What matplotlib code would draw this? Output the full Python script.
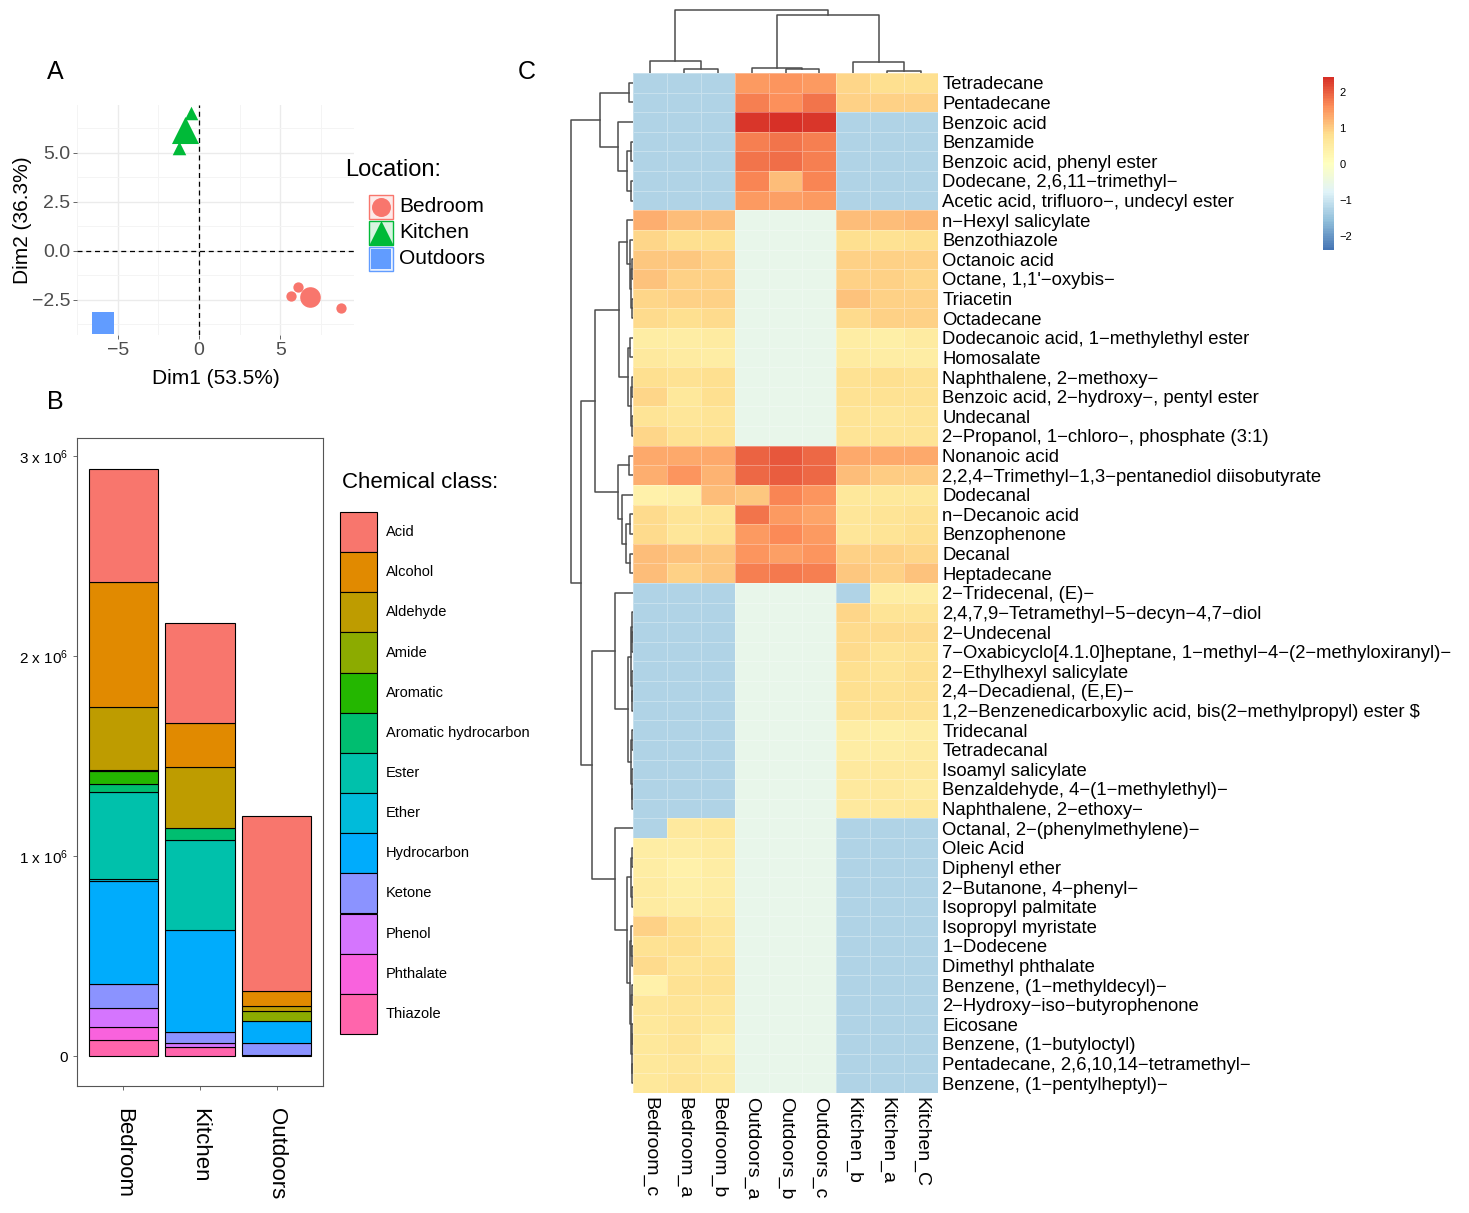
import numpy as np
import matplotlib
matplotlib.use('Agg')
import matplotlib.pyplot as plt
from matplotlib.colors import LinearSegmentedColormap
from matplotlib.patches import Rectangle

plt.rcParams['font.family'] = ['Liberation Sans', 'DejaVu Sans']
plt.rcParams['mathtext.default'] = 'regular'

# ---------------- data ----------------
# A: PCA scores
locations = ['Bedroom', 'Kitchen', 'Outdoors']
loc_colors = ['#F8766D', '#00BA38', '#619CFF']
loc_markers = ['o', '^', 's']
bedroom_dim1 = [6.06, 5.67, 8.73]
bedroom_dim2 = [-1.84, -2.29, -2.93]
kitchen_dim1 = [-0.47, -1.24, -0.93]
kitchen_dim2 = [7.04, 5.26, 6.21]
outdoors_dim1 = [-5.9, -5.9, -5.9]
outdoors_dim2 = [-3.67, -3.67, -3.67]

# B: stacked peak area per chemical class
classes = ['Acid', 'Alcohol', 'Aldehyde', 'Amide', 'Aromatic', 'Aromatic hydrocarbon',
           'Ester', 'Ether', 'Hydrocarbon', 'Ketone', 'Phenol', 'Phthalate', 'Thiazole']
class_colors = ['#F8766D', '#E18A00', '#BE9C00', '#8CAB00', '#24B700', '#00BE70',
                '#00C1AB', '#00BBDA', '#00ACFC', '#8B93FF', '#D575FE', '#F962DD', '#FF65AC']
bedroom_area = [563e3, 627e3, 316e3, 5e3, 65e3, 39e3, 433e3, 13e3, 515e3, 119e3, 97e3, 65e3, 78e3]
kitchen_area = [498e3, 221e3, 307e3, 0, 0, 61e3, 450e3, 0, 509e3, 54e3, 22e3, 0, 43e3]
outdoors_area = [876e3, 74e3, 26e3, 48e3, 0, 0, 0, 0, 112e3, 61e3, 0, 0, 4e3]

# C: heatmap
compounds = [
    'Tetradecane', 'Pentadecane', 'Benzoic acid', 'Benzamide', 'Benzoic acid, phenyl ester',
    'Dodecane, 2,6,11\u2212trimethyl\u2212', 'Acetic acid, trifluoro\u2212, undecyl ester',
    'n\u2212Hexyl salicylate', 'Benzothiazole', 'Octanoic acid', "Octane, 1,1'\u2212oxybis\u2212",
    'Triacetin', 'Octadecane', 'Dodecanoic acid, 1\u2212methylethyl ester', 'Homosalate',
    'Naphthalene, 2\u2212methoxy\u2212', 'Benzoic acid, 2\u2212hydroxy\u2212, pentyl ester', 'Undecanal',
    '2\u2212Propanol, 1\u2212chloro\u2212, phosphate (3:1)', 'Nonanoic acid',
    '2,2,4\u2212Trimethyl\u22121,3\u2212pentanediol diisobutyrate', 'Dodecanal', 'n\u2212Decanoic acid',
    'Benzophenone', 'Decanal', 'Heptadecane', '2\u2212Tridecenal, (E)\u2212',
    '2,4,7,9\u2212Tetramethyl\u22125\u2212decyn\u22124,7\u2212diol', '2\u2212Undecenal',
    '7\u2212Oxabicyclo[4.1.0]heptane, 1\u2212methyl\u22124\u2212(2\u2212methyloxiranyl)\u2212',
    '2\u2212Ethylhexyl salicylate', '2,4\u2212Decadienal, (E,E)\u2212',
    '1,2\u2212Benzenedicarboxylic acid, bis(2\u2212methylpropyl) ester $', 'Tridecanal',
    'Tetradecanal', 'Isoamyl salicylate', 'Benzaldehyde, 4\u2212(1\u2212methylethyl)\u2212',
    'Naphthalene, 2\u2212ethoxy\u2212', 'Octanal, 2\u2212(phenylmethylene)\u2212', 'Oleic Acid',
    'Diphenyl ether', '2\u2212Butanone, 4\u2212phenyl\u2212', 'Isopropyl palmitate',
    'Isopropyl myristate', '1\u2212Dodecene', 'Dimethyl phthalate',
    'Benzene, (1\u2212methyldecyl)\u2212', '2\u2212Hydroxy\u2212iso\u2212butyrophenone', 'Eicosane',
    'Benzene, (1\u2212butyloctyl)', 'Pentadecane, 2,6,10,14\u2212tetramethyl\u2212',
    'Benzene, (1\u2212pentylheptyl)\u2212']
samples = ['Bedroom_c', 'Bedroom_a', 'Bedroom_b', 'Outdoors_a', 'Outdoors_b', 'Outdoors_c',
           'Kitchen_b', 'Kitchen_a', 'Kitchen_C']
b, p = -1.27, -0.6
bedroom_c = [b] * 7 + [1.3, 0.88, 1.05, 1.1, 0.9, 0.85, 0.45, 0.55, 0.8, 0.9, 0.7, 0.9,
                       1.35, 1.3, 0.35, 0.85, 0.85, 1.15, 1.15] + [b] * 12 + \
            [b, 0.45, 0.45, 0.5, 0.5, 0.95, 0.75, 0.85, 0.35, 0.65, 0.6, 0.6, 0.6, 0.6]
bedroom_a = [b] * 7 + [1.12, 0.8, 1.05, 0.95, 0.95, 0.8, 0.45, 0.5, 0.75, 0.6, 0.65, 0.75,
                       1.35, 1.52, 0.4, 0.7, 0.65, 1.1, 0.95] + [b] * 12 + \
            [0.55, 0.45, 0.35, 0.4, 0.45, 0.8, 0.8, 0.7, 0.75, 0.7, 0.7, 0.7, 0.65, 0.7]
bedroom_b = [b] * 7 + [1.12, 0.8, 0.95, 0.95, 0.95, 0.85, 0.5, 0.45, 0.8, 0.8, 0.7, 0.75,
                       1.35, 1.25, 1.15, 0.7, 0.75, 1.05, 1.05] + [b] * 12 + \
            [0.6, 0.5, 0.45, 0.45, 0.5, 0.65, 0.65, 0.75, 0.75, 0.65, 0.6, 0.45, 0.6, 0.6]
outdoors_a = [1.5, 1.7, 2.33, 1.72, 1.82, 1.65, 1.5] + [p] * 12 + \
             [1.95, 1.9, 1.05, 1.82, 1.48, 1.52, 1.72] + [p] * 26
outdoors_b = [1.55, 1.6, 2.42, 1.82, 1.88, 1.12, 1.42] + [p] * 12 + \
             [2.05, 2.0, 1.65, 1.5, 1.62, 1.42, 1.75] + [p] * 26
outdoors_c = [1.5, 1.8, 2.33, 1.72, 1.72, 1.65, 1.5] + [p] * 12 + \
             [1.9, 1.9, 1.55, 1.38, 1.48, 1.52, 1.72] + [p] * 26
kitchen_b = [0.9, 0.95] + [b] * 5 + [1.12, 0.8, 0.95, 0.95, 1.1, 0.85, 0.45, 0.5, 0.75, 0.75, 0.7, 0.7,
                                     1.35, 1.15, 0.6, 0.65, 0.65, 0.95, 1.05] + \
            [b, 0.9, 0.85, 0.85, 0.8, 0.8, 0.75, 0.45, 0.45, 0.55, 0.55, 0.55] + [b] * 14
kitchen_a = [0.8, 0.95] + [b] * 5 + [1.12, 0.75, 0.95, 0.95, 0.95, 0.95, 0.4, 0.45, 0.8, 0.75, 0.65, 0.7,
                                     1.35, 1.0, 0.6, 0.7, 0.7, 0.95, 0.95] + \
            [0.45, 0.7, 0.85, 0.7, 0.7, 0.75, 0.75, 0.4, 0.45, 0.55, 0.55, 0.55] + [b] * 14
kitchen_C = [0.8, 0.97] + [b] * 5 + [1.2, 0.8, 0.95, 0.9, 0.95, 0.95, 0.5, 0.45, 0.75, 0.75, 0.7, 0.7,
                                     1.35, 1.0, 0.6, 0.75, 0.8, 0.9, 1.1] + \
            [0.45, 0.7, 0.85, 0.75, 0.8, 0.8, 0.75, 0.45, 0.5, 0.55, 0.5, 0.6] + [b] * 14

# dendrogram merges (left, right, height), leaves = row / column index
col_tree = ((0, (1, 2, 4), 12), ((3, (4, 5, 4), 5), (6, (7, 8, 2), 11), 58), 63)
t1_7 = ((0, 1, 4), (2, ((3, 4, 2), (5, 6, 2), 6), 15), 33)
t8_13 = (7, (8, ((9, 10, 1), (11, 12, 1.5), 2.5), 3.5), 6)
t14_19 = ((13, 14, 3), ((15, 16, 1), (17, 18, 1.5), 2.5), 5)
t20_26 = ((19, 20, 4.5), (21, ((22, 23, 3), (24, 25, 3), 7), 11), 15)
t28_33 = ((27, (28, 29, 0.8), 1.5), (30, (31, 32, 0.8), 1.2), 2)
t34_38 = ((33, 34, 0.8), (35, (36, 37, 0.6), 1), 2)
t40_43 = ((39, 40, 1), (41, 42, 1.2), 2)
t44_52 = ((43, (44, 45, 1), 2), ((46, 47, 1.2), ((48, 49, 0.8), (50, 51, 0.6), 1.2), 1.8), 3.5)
row_tree = (t1_7, (((t8_13, t14_19, 14), t20_26, 38),
                   ((26, (t28_33, t34_38, 5), 18), (38, (t40_43, t44_52, 6), 18), 41), 52), 62)

# ---------------- figure ----------------
W, H = 1469, 1213
fig = plt.figure(figsize=(W / 100, H / 100), dpi=100)


def px_axes(x0, y0, x1, y1):
    return fig.add_axes([x0 / W, 1 - y1 / H, (x1 - x0) / W, (y1 - y0) / H])


# ---- A ----
axA = px_axes(77, 105, 354, 335)
dims = [(bedroom_dim1, bedroom_dim2), (kitchen_dim1, kitchen_dim2), (outdoors_dim1, outdoors_dim2)]
small_s = {'o': 55, '^': 95, 's': 70}
big_s = {'o': 220, '^': 380, 's': 230}
for (d1, d2), col, mk in zip(dims, loc_colors, loc_markers):
    axA.scatter(d1, d2, s=small_s[mk], marker=mk, color=col, linewidths=0, zorder=3)
    axA.scatter([np.mean(d1)], [np.mean(d2)], s=big_s[mk], marker=mk, color=col,
                linewidths=0, zorder=3)
axA.axhline(0, color='black', lw=0.9, ls=(0, (4, 3)), zorder=2)
axA.axvline(0, color='black', lw=0.9, ls=(0, (4, 3)), zorder=2)
axA.set_xlim(-6.86, 9.53)
axA.set_ylim(-4.3, 7.45)
axA.set_xticks([-5, 0, 5])
axA.set_xticks([-7.5, -2.5, 2.5, 7.5], minor=True)
axA.set_yticks([-2.5, 0, 2.5, 5.0])
axA.set_yticks([-3.75, -1.25, 1.25, 3.75, 6.25], minor=True)
axA.set_yticklabels(['\u22122.5', '0.0', '2.5', '5.0'])
axA.set_xticklabels(['\u22125', '0', '5'])
axA.grid(which='major', color='#ebebeb', lw=1.0, zorder=0)
axA.grid(which='minor', color='#f4f4f4', lw=0.7, zorder=0)
axA.set_axisbelow(True)
for s in axA.spines.values():
    s.set_visible(False)
axA.tick_params(which='major', labelsize=14, labelcolor='#4d4d4d', color='#4d4d4d',
                length=3, width=0.6, pad=2)
axA.tick_params(which='minor', length=0)
axA.set_xlabel('Dim1 (53.5%)', fontsize=15, labelpad=7)
axA.set_ylabel('Dim2 (36.3%)', fontsize=15, labelpad=0)

laxA = px_axes(340, 150, 490, 275)
laxA.set_xlim(340, 490)
laxA.set_ylim(275, 150)
laxA.axis('off')
laxA.text(345, 170, 'Location:', fontsize=17, va='center', ha='left')
for i, (loc, col, mk) in enumerate(zip(locations, loc_colors, loc_markers)):
    yc = 207 + i * 26
    laxA.add_patch(Rectangle((369, yc - 12), 24, 24, facecolor=col, alpha=0.15, edgecolor='none'))
    laxA.add_patch(Rectangle((369, yc - 12), 24, 24, facecolor='none', edgecolor=col, lw=1))
    laxA.scatter([381], [yc], s=big_s[mk] * 0.85, marker=mk, color=col, linewidths=0)
    laxA.text(399, yc, loc, fontsize=15, va='center', ha='left')

# ---- B ----
axB = px_axes(77, 438, 323, 1086)
areas = [bedroom_area, kitchen_area, outdoors_area]
xpos = np.arange(len(locations))
for j, vals in enumerate(areas):
    bottom = 0.0
    for k in range(len(classes) - 1, -1, -1):
        v = vals[k]
        if v > 0:
            axB.bar(xpos[j], v, bottom=bottom, width=0.9, color=class_colors[k],
                    edgecolor='black', linewidth=0.8)
        bottom += v
axB.set_xlim(-0.6, 2.6)
axB.set_ylim(-0.15e6, 3.09e6)
axB.set_yticks([0, 1e6, 2e6, 3e6])
axB.set_yticklabels(['0', '1 x 10$^6$', '2 x 10$^6$', '3 x 10$^6$'])
axB.set_xticks(xpos)
axB.set_xticklabels(locations, rotation=270, fontsize=16, va='top', ha='center')
axB.tick_params(axis='y', labelsize=11, length=3, color='#555555', width=0.6)
axB.tick_params(axis='x', length=3, color='#555555', width=0.6, pad=13)
for s in axB.spines.values():
    s.set_color('#555555')
    s.set_linewidth(0.8)

laxB = px_axes(336, 465, 560, 1040)
laxB.set_xlim(336, 560)
laxB.set_ylim(1040, 465)
laxB.axis('off')
laxB.text(342, 483, 'Chemical class:', fontsize=16, va='center', ha='left')
key_h = 40.15
for k, (cl, col) in enumerate(zip(classes, class_colors)):
    top = 512 + k * key_h
    laxB.add_patch(Rectangle((340, top), 37, key_h, facecolor=col, edgecolor='black', lw=0.8))
    laxB.text(386, top + key_h / 2, cl, fontsize=10.5, va='center', ha='left')

# ---- C ----
colors7 = ['#4575B4', '#91BFDB', '#E0F3F8', '#FFFFBF', '#FEE090', '#FC8D59', '#D73027']
cmap = LinearSegmentedColormap.from_list('rdylbu_r', colors7, N=100)
Z = np.column_stack([bedroom_c, bedroom_a, bedroom_b, outdoors_a, outdoors_b, outdoors_c,
                     kitchen_b, kitchen_a, kitchen_C])

axH = px_axes(633, 73, 938, 1093)
mesh = axH.pcolormesh(Z, cmap=cmap, vmin=-2.4, vmax=2.42, edgecolors=(1, 1, 1, 0.3),
                      linewidth=0.4)
axH.set_xlim(0, len(samples))
axH.set_ylim(len(compounds), 0)
axH.yaxis.tick_right()
axH.set_yticks(np.arange(len(compounds)) + 0.5)
axH.set_yticklabels(compounds, fontsize=13.3)
axH.set_xticks(np.arange(len(samples)) + 0.5)
axH.set_xticklabels(samples, rotation=270, fontsize=14, va='top', ha='center')
axH.tick_params(length=0, pad=3)
for s in axH.spines.values():
    s.set_visible(False)


def draw_tree(ax, node, orient):
    if isinstance(node, int):
        return node + 0.5, 0.0
    left, right, h = node
    pl, hl = draw_tree(ax, left, orient)
    pr, hr = draw_tree(ax, right, orient)
    if orient == 'top':
        ax.plot([pl, pl, pr, pr], [hl, h, h, hr], color='#4d4d4d', lw=1.1)
    else:
        ax.plot([hl, h, h, hr], [pl, pl, pr, pr], color='#4d4d4d', lw=1.1)
    return (pl + pr) / 2, h


axR = px_axes(565, 73, 633, 1093)
draw_tree(axR, row_tree, 'left')
axR.set_xlim(68, 0)
axR.set_ylim(len(compounds), 0)
axR.axis('off')

axC = px_axes(633, 5, 938, 73)
draw_tree(axC, col_tree, 'top')
axC.set_xlim(0, len(samples))
axC.set_ylim(0, 68)
axC.axis('off')

cax = px_axes(1323, 77, 1334, 250)
cb = fig.colorbar(mesh, cax=cax, ticks=[-2, -1, 0, 1, 2])
cb.outline.set_visible(False)
cax.tick_params(length=0, labelsize=8, pad=4)

# panel letters
fig.text(55 / W, 1 - 72 / H, 'A', fontsize=18, ha='center', va='center')
fig.text(55 / W, 1 - 402 / H, 'B', fontsize=18, ha='center', va='center')
fig.text(527 / W, 1 - 72 / H, 'C', fontsize=18, ha='center', va='center')

fig.savefig('out.png', dpi=100)
